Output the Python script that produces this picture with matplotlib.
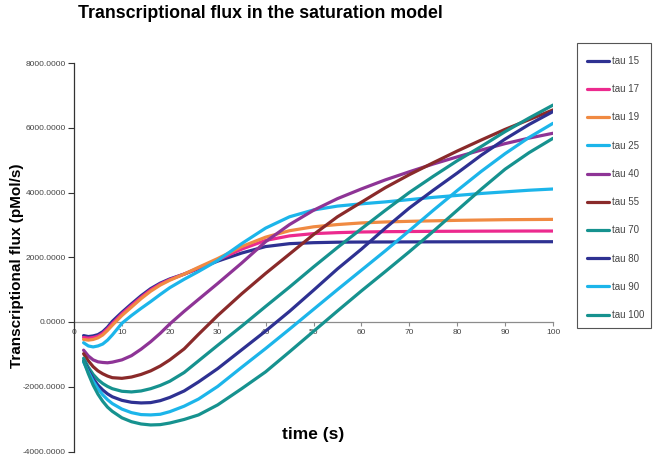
import matplotlib
matplotlib.use("Agg")
import matplotlib.pyplot as plt
from matplotlib.patches import Rectangle
from matplotlib.ticker import FuncFormatter

time = [2, 3, 4, 5, 6, 7, 8, 10, 12, 14, 16, 18, 20, 23, 26, 30, 35, 40, 45, 50,
        55, 60, 65, 70, 75, 80, 85, 90, 95, 100]

tau15 = [-420, -450, -430, -390, -300, -160, 20, 300, 560, 810, 1030, 1200, 1330, 1480, 1650,
         1880, 2130, 2330, 2420, 2450, 2465, 2470, 2472, 2474, 2476, 2477, 2478, 2479, 2480, 2480]
tau17 = [-480, -500, -480, -440, -350, -210, -50, 250, 510, 760, 990, 1170, 1310, 1480, 1670,
         1920, 2250, 2520, 2660, 2730, 2760, 2780, 2790, 2795, 2800, 2803, 2806, 2808, 2810, 2810]
tau19 = [-540, -560, -540, -490, -400, -260, -100, 200, 460, 720, 950, 1140, 1290, 1480, 1690,
         1960, 2330, 2620, 2820, 2940, 3010, 3060, 3090, 3110, 3125, 3140, 3150, 3160, 3165, 3170]
tau25 = [-640, -740, -770, -740, -680, -560, -400, -40, 200, 420, 630, 850, 1060, 1320, 1560,
         1900, 2420, 2900, 3250, 3460, 3580, 3650, 3710, 3780, 3850, 3910, 3970, 4020, 4070, 4108]
tau40 = [-870, -1050, -1170, -1230, -1250, -1260, -1240, -1170, -1040, -840, -610, -350, -60, 330, 700,
         1190, 1820, 2480, 3010, 3450, 3810, 4110, 4390, 4640, 4880, 5100, 5310, 5510, 5680, 5830]
tau55 = [-980, -1200, -1380, -1510, -1600, -1670, -1720, -1740, -1700, -1620, -1510, -1360, -1170, -830, -380,
         200, 870, 1500, 2100, 2700, 3250, 3700, 4150, 4550, 4920, 5280, 5620, 5950, 6250, 6550]
tau70 = [-1120, -1400, -1620, -1780, -1900, -1990, -2060, -2140, -2160, -2130, -2060, -1960, -1830, -1560, -1200,
         -720, -130, 480, 1080, 1700, 2300, 2880, 3450, 4000, 4500, 4980, 5420, 5880, 6300, 6700]
tau80 = [-1200, -1500, -1750, -1950, -2100, -2220, -2310, -2420, -2480, -2500, -2490, -2430, -2330, -2130, -1850,
         -1440, -860, -280, 330, 980, 1640, 2250, 2900, 3520, 4070, 4600, 5150, 5650, 6100, 6500]
tau90 = [-1230, -1550, -1830, -2060, -2250, -2400, -2520, -2690, -2800, -2860, -2870, -2850, -2770, -2600, -2380,
         -1990, -1400, -820, -220, 390, 1000, 1600, 2200, 2820, 3450, 4060, 4650, 5200, 5700, 6137]
tau100 = [-1200, -1600, -1950, -2230, -2450, -2630, -2760, -2960, -3080, -3150, -3180, -3170, -3120, -3010, -2870,
          -2560, -2060, -1540, -920, -290, 340, 960, 1560, 2170, 2800, 3450, 4100, 4720, 5230, 5674]

labels = ["tau 15", "tau 17", "tau 19", "tau 25", "tau 40", "tau 55",
          "tau 70", "tau 80", "tau 90", "tau 100"]
series = [tau15, tau17, tau19, tau25, tau40, tau55, tau70, tau80, tau90, tau100]
colors = ["#2E3192", "#EC2A8E", "#F08A42", "#1CB5EA", "#8E3496", "#8A2A2A",
          "#16928F", "#2E3192", "#1CB5EA", "#16928F"]

x_ticks = [0, 10, 20, 30, 40, 50, 60, 70, 80, 90, 100]
y_ticks = [-4000, -2000, 0, 2000, 4000, 6000, 8000]

plt.rcParams['font.family'] = ['Liberation Sans', 'DejaVu Sans']

fig = plt.figure(figsize=(6.58, 4.57), dpi=100)
ax = fig.add_axes([74 / 658, 1 - 451.5 / 457, (553 - 74) / 658, (451.5 - 63) / 457])

for lab, ys, c in zip(labels, series, colors):
    ax.plot(time, ys, color=c, lw=2.3, label=lab, solid_capstyle='round',
            solid_joinstyle='round')

ax.set_xlim(0, 100)
ax.set_ylim(-4000, 8000)
ax.set_xticks(x_ticks)
ax.set_yticks(y_ticks)
ax.yaxis.set_major_formatter(FuncFormatter(lambda v, p: f"{v:.4f}"))

for s in ['top', 'right']:
    ax.spines[s].set_visible(False)
ax.spines['left'].set_color('#333333')
ax.spines['left'].set_linewidth(0.9)
ax.spines['bottom'].set_position(('data', 0))
ax.spines['bottom'].set_color('#8c8c8c')
ax.spines['bottom'].set_linewidth(0.9)
ax.spines['bottom'].set_zorder(0)

ax.tick_params(axis='x', direction='out', length=3, width=0.8, color='#8c8c8c',
               labelsize=6, labelcolor='#444444', pad=2)
ax.tick_params(axis='y', direction='out', length=4, width=0.8, color='#333333',
               labelsize=6, labelcolor='#444444', pad=2)

fig.text(260 / 658, 1 - 14 / 457, "Transcriptional flux in the saturation model",
         ha='center', va='center', fontsize=12.8, fontweight='bold')
fig.text(17 / 658, 1 - 266 / 457, "Transcriptional flux (pMol/s)", rotation=90,
         ha='center', va='center', fontsize=11, fontweight='bold')
fig.text(313 / 658, 1 - 434 / 457, "time (s)", ha='center', va='center',
         fontsize=12.5, fontweight='bold')

# legend frame
fig.add_artist(Rectangle((577 / 658, 1 - 328 / 457), 74 / 658, 285 / 457,
                         transform=fig.transFigure, fill=False,
                         edgecolor='#555555', linewidth=0.8))
leg = fig.legend(loc='upper left', bbox_to_anchor=(587 / 658, 1 - 56 / 457),
                 fontsize=7, frameon=False,
                 labelspacing=1.875, handlelength=2.3, handletextpad=0.25,
                 borderpad=0, borderaxespad=0)
for t in leg.get_texts():
    t.set_color('#444444')

fig.savefig("out.png", dpi=100)
